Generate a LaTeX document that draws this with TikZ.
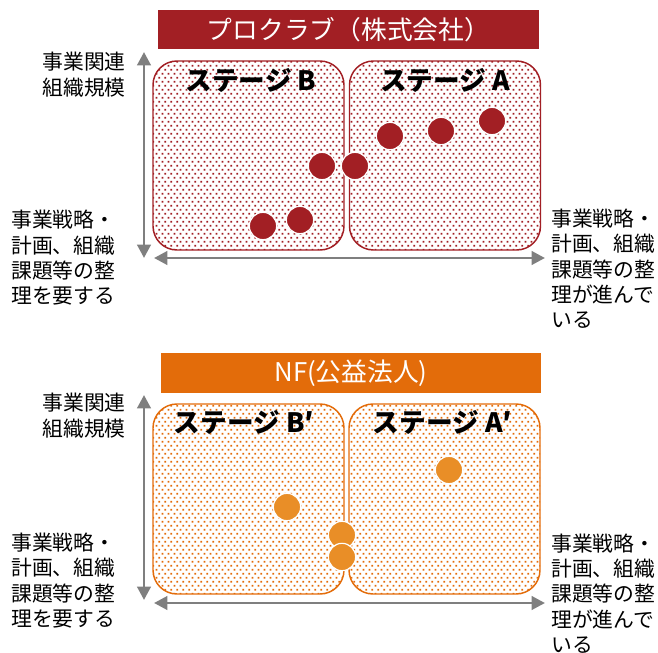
\documentclass[tikz,border=0pt]{standalone}
\usepackage{fontspec}
\setmainfont{Noto Sans CJK JP}
\usetikzlibrary{patterns,arrows.meta}
\pgfdeclarepatternformonly{stagdots}{\pgfqpoint{0pt}{0pt}}{\pgfqpoint{4.3pt}{6.3pt}}{\pgfqpoint{4.3pt}{6.3pt}}{%
  \pgfpathrectangle{\pgfqpoint{0.4pt}{0.4pt}}{\pgfqpoint{1.4pt}{1.4pt}}%
  \pgfpathrectangle{\pgfqpoint{2.55pt}{3.55pt}}{\pgfqpoint{1.4pt}{1.4pt}}%
  \pgfusepath{fill}}
\definecolor{pcred}{HTML}{A21F24}
\definecolor{nforange}{HTML}{E36C0A}
\definecolor{nfdot}{HTML}{E98E27}
\definecolor{axisgray}{HTML}{7F7F7F}
\begin{document}
\begin{tikzpicture}[x=0.75pt,y=-0.75pt,
  titlebar/.style={inner sep=0pt, text=white, font=\fontsize{19.3pt}{21pt}\selectfont},
  stagebox/.style={inner sep=0pt, rounded corners=18pt, line width=1.1pt, minimum width=143.25pt, pattern=stagdots},
  stagelabel/.style={inner sep=0pt, font=\fontsize{20pt}{22pt}\selectfont\bfseries},
  axislabel/.style={inner sep=0pt, font=\fontsize{15.6pt}{19pt}\selectfont},
  axisarrow/.style={draw=axisgray, line width=2.2pt, {Triangle[length=10pt,width=10pt]}-{Triangle[length=10pt,width=10pt]}},
  reddot/.style={circle, inner sep=0pt, minimum size=20.5pt, fill=pcred, draw=white, line width=0.9pt},
  orangedot/.style={circle, inner sep=0pt, minimum size=20.5pt, fill=nfdot, draw=white, line width=0.9pt}]
\useasboundingbox (0,0) rectangle (658,653);
% ===== top section =====
\node[titlebar, fill=pcred, minimum width=285.75pt, minimum height=29.25pt] (t1) at (348.5,29.5) {プロクラブ（株式会社）};
\node[stagebox, draw=pcred, pattern color=pcred, minimum height=141.75pt] (b1) at (248.5,155.5) {};
\node[stagebox, draw=pcred, pattern color=pcred, minimum height=141.75pt] (a1) at (445,155.5) {};
\node[stagelabel] (lb1) at (251,80) {ステージ B};
\node[stagelabel] (la1) at (445,80) {ステージ A};
\coordinate (v1t) at (144,52);
\coordinate (v1b) at (144,258);
\coordinate (h1l) at (154,258);
\coordinate (h1r) at (545,258);
\draw[axisarrow] (v1t) -- (v1b);
\draw[axisarrow] (h1l) -- (h1r);
\node[reddot] (r1) at (263,226) {};
\node[reddot] (r2) at (300,220) {};
\node[reddot] (r3) at (322,166) {};
\node[reddot] (r4) at (355,166) {};
\node[reddot] (r5) at (390,136) {};
\node[reddot] (r6) at (441,131) {};
\node[reddot] (r7) at (492,121) {};
\node[axislabel, anchor=east, align=right] (yl1) at (126,74.5) {事業関連\\組織規模};
\node[axislabel, anchor=west, align=left] (xl1) at (11,258) {事業戦略・\\計画、組織\\課題等の整\\理を要する};
\node[axislabel, anchor=west, align=left] (xr1) at (551,269) {事業戦略・\\計画、組織\\課題等の整\\理が進んで\\いる};
% ===== bottom section =====
\node[titlebar, fill=nforange, minimum width=285pt, minimum height=30pt] (t2) at (351,373) {NF(公益法人)};
\node[stagebox, draw=nforange, pattern color=nforange, minimum height=142.5pt] (b2) at (248.5,499) {};
\node[stagebox, draw=nforange, pattern color=nforange, minimum height=142.5pt] (a2) at (444.5,499) {};
\node[stagelabel] (lb2) at (244,422) {ステージ B′};
\node[stagelabel] (la2) at (442.5,422) {ステージ A′};
\coordinate (v2t) at (144,395);
\coordinate (v2b) at (144,600);
\coordinate (h2l) at (154,603);
\coordinate (h2r) at (545,603);
\draw[axisarrow] (v2t) -- (v2b);
\draw[axisarrow] (h2l) -- (h2r);
\node[orangedot] (o1) at (287,507) {};
\node[orangedot] (o2) at (449,470) {};
\node[orangedot] (o3) at (342,535) {};
\node[orangedot] (o4) at (342,557) {};
\node[axislabel, anchor=east, align=right] (yl2) at (126,415.5) {事業関連\\組織規模};
\node[axislabel, anchor=west, align=left] (xl2) at (11,580.5) {事業戦略・\\計画、組織\\課題等の整\\理を要する};
\node[axislabel, anchor=west, align=left] (xr2) at (551,593.5) {事業戦略・\\計画、組織\\課題等の整\\理が進んで\\いる};
\end{tikzpicture}
\end{document}
